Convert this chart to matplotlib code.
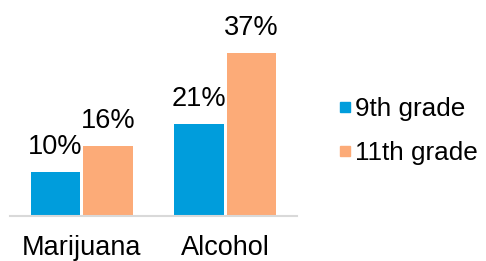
import matplotlib
matplotlib.use("Agg")
import matplotlib.pyplot as plt
from matplotlib.lines import Line2D
import numpy as np

categories = ["Marijuana", "Alcohol"]
series_names = ["9th grade", "11th grade"]
grade9 = [10, 21]
grade11 = [16, 37]
colors = ["#009DDC", "#FCAB78"]

plt.rcParams['font.family'] = ['Liberation Sans', 'DejaVu Sans']
FS = 19.5

fig = plt.figure(figsize=(4.86, 2.61), dpi=100)
ax = fig.add_axes([10/486, 45/261, 287/486, 198/261])

x = np.arange(len(categories))
w = 0.345
off = 0.183
for vals, o, c in [(grade9, -off, colors[0]), (grade11, off, colors[1])]:
    bars = ax.bar(x + o, vals, width=w, color=c)
    for b, v in zip(bars, vals):
        ax.annotate(f"{v}%", (b.get_x() + b.get_width()/2, v), xytext=(0, 13),
                    textcoords="offset points", ha="center", va="baseline",
                    fontsize=FS, color="#000000")

ax.set_xlim(-0.5, 1.5)
ax.set_ylim(0, 45)
ax.set_xticks(x)
ax.set_xticklabels(categories, fontsize=FS)
ax.tick_params(axis='x', length=0, pad=14)
ax.set_yticks([])
for s in ["top", "right", "left"]:
    ax.spines[s].set_visible(False)
ax.spines["bottom"].set_color("#D9D9D9")
ax.spines["bottom"].set_linewidth(1.5)

handles = [Line2D([], [], marker='s', linestyle='none', markersize=7.5,
                  markerfacecolor=c, markeredgecolor=c) for c in colors]
fig.legend(handles, series_names, loc="center left", bbox_to_anchor=(326/486, 1 - 131/261),
           frameon=False, fontsize=18.8, handlelength=0.45, handletextpad=0.15,
           labelspacing=0.78, borderpad=0)

fig.savefig("out.png", dpi=100)
